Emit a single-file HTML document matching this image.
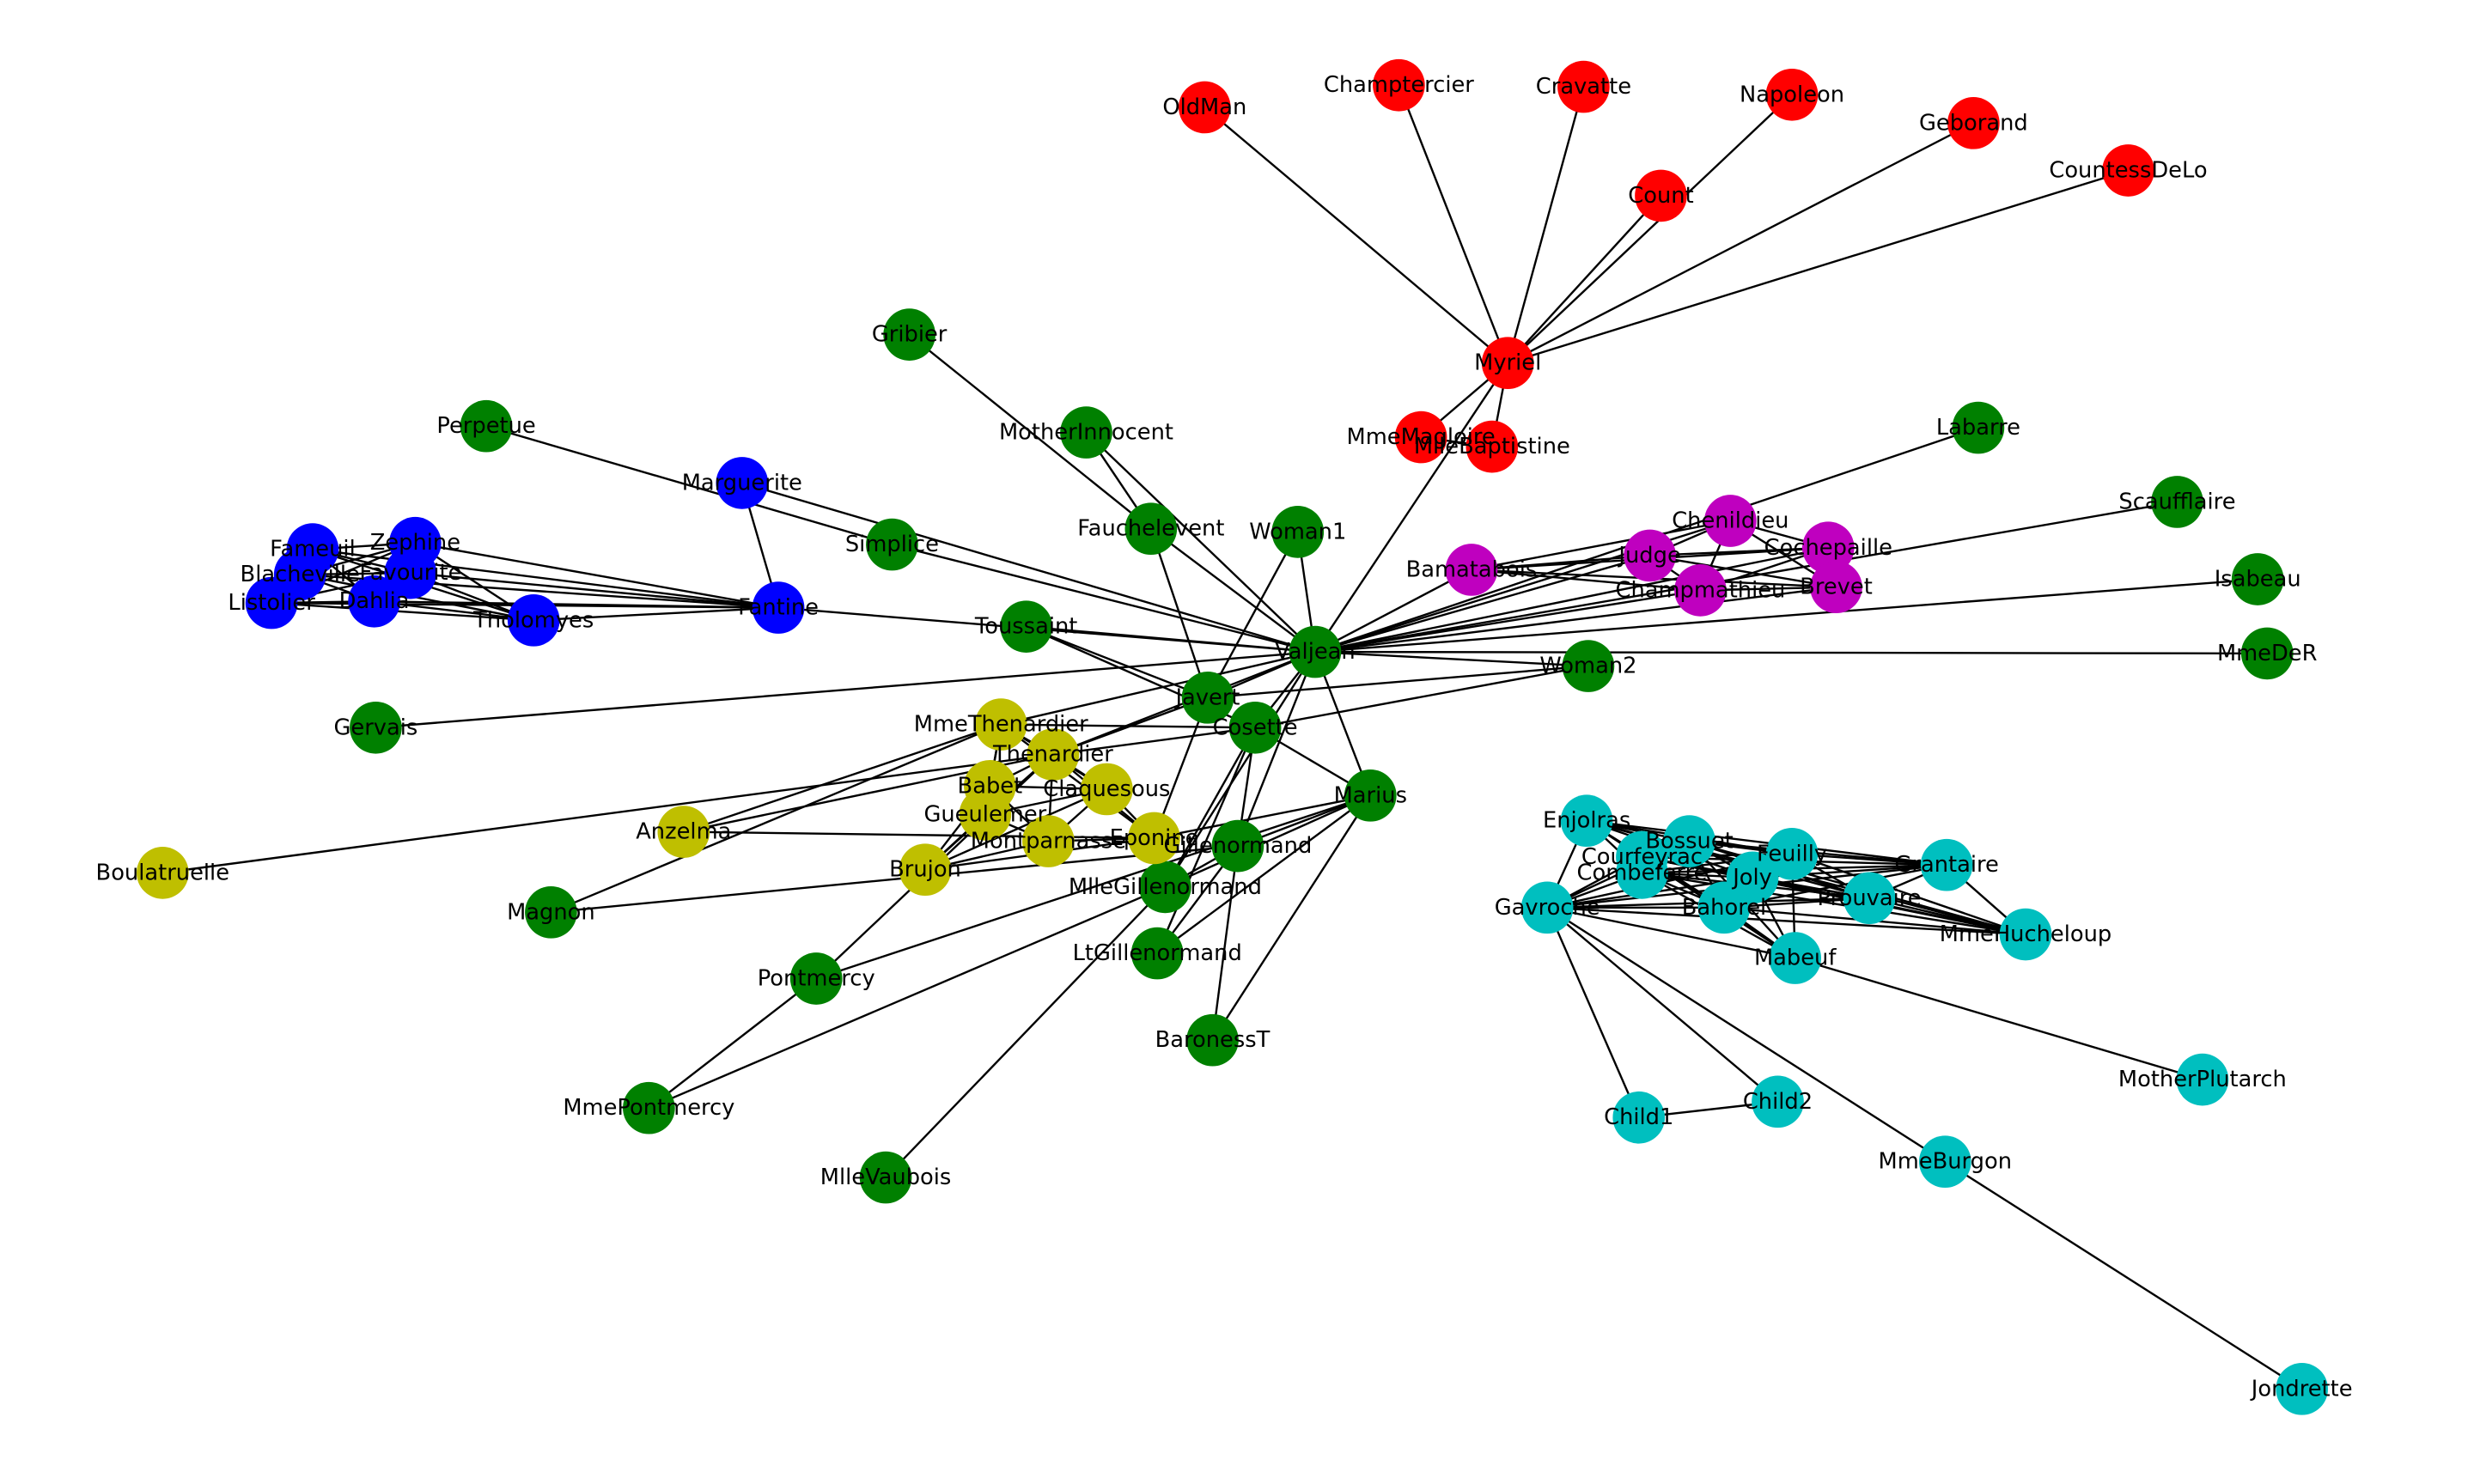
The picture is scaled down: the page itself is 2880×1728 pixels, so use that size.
<!DOCTYPE html>
<html><head><meta charset="utf-8"><style>
html,body{margin:0;padding:0;background:#fff;width:2880px;height:1728px;overflow:hidden}
svg{display:block}
text{font-family:"DejaVu Sans","Liberation Sans",sans-serif;font-size:14px;fill:#000;text-anchor:middle;dominant-baseline:central}
</style></head><body>
<svg id="g" width="2880" height="1728" viewBox="0 0 1567 940.2" preserveAspectRatio="none" xmlns="http://www.w3.org/2000/svg"><g id="e" stroke="#000" stroke-width="1.3"></g><g id="n"></g><g id="t"></g></svg>
<script>
const R='#ff0000',G='#008000',B='#0000ff',Y='#bfbf00',M='#bf00bf',C='#00bfbf';
const N={
Myriel:[955,230,R],OldMan:[763,68,R],Champtercier:[886,54,R],Cravatte:[1003,55,R],Napoleon:[1135,60,R],Geborand:[1250,78,R],CountessDeLo:[1348,108,R],Count:[1052,124,R],MmeMagloire:[900,277,R],MlleBaptistine:[945,283,R],
Labarre:[1253,271,G],Scaufflaire:[1379,318,G],Isabeau:[1430,367,G],MmeDeR:[1436,414,G],Valjean:[833,413,G],Woman2:[1006,422,G],Woman1:[822,337,G],Fauchelevent:[729,335,G],MotherInnocent:[688,274,G],Gribier:[576,212,G],Simplice:[565,345,G],Perpetue:[308,270,G],
Marguerite:[470,306,B],Fantine:[493,385,B],Tholomyes:[338,393,B],Dahlia:[237,381,B],Listolier:[172,382,B],Blacheville:[190,364,B],Fameuil:[198,348,B],Zephine:[263,344,B],Favourite:[260,363,B],
Toussaint:[650,397,G],Javert:[765,442,G],Cosette:[795,461,G],Gervais:[238,461,G],Marius:[868,504,G],Gillenormand:[784,536,G],MlleGillenormand:[738,562,G],LtGillenormand:[733,604,G],BaronessT:[768,659,G],Pontmercy:[517,620,G],MmePontmercy:[411,702,G],MlleVaubois:[561,746,G],Magnon:[349,578,G],
Boulatruelle:[103,553,Y],Anzelma:[433,527,Y],MmeThenardier:[634,459,Y],Thenardier:[667,478,Y],Babet:[627,498,Y],Claquesous:[701,500,Y],Gueulemer:[624,516,Y],Montparnasse:[664,533,Y],Eponine:[731,531,Y],Brujon:[586,551,Y],
Bamatabois:[932,361,M],Judge:[1045,352,M],Chenildieu:[1096,330,M],Cochepaille:[1158,347,M],Champmathieu:[1077,374,M],Brevet:[1163,372,M],
Enjolras:[1005,520,C],Bossuet:[1070,533,C],Courfeyrac:[1040,543,C],Combeferre:[1040,553,C],Feuilly:[1135,541,C],Joly:[1110,556,C],Bahorel:[1092,575,C],Prouvaire:[1184,569,C],Grantaire:[1233,548,C],MmeHucheloup:[1283,592,C],Gavroche:[980,575,C],Mabeuf:[1137,607,C],MotherPlutarch:[1395,684,C],Child1:[1038,708,C],Child2:[1126,698,C],MmeBurgon:[1232,736,C],Jondrette:[1458,880,C]};
const E=[];
function a(x,l){l.split(' ').forEach(y=>E.push([x,y]));}
function cl(l){const s=l.split(' ');for(let i=0;i<s.length;i++)for(let j=i+1;j<s.length;j++)E.push([s[i],s[j]]);}
a('Myriel','Napoleon MlleBaptistine MmeMagloire CountessDeLo Geborand Champtercier Cravatte Count OldMan Valjean');
a('MlleBaptistine','MmeMagloire');
a('Valjean','Labarre Marguerite MmeDeR Isabeau Gervais Fantine MmeThenardier Thenardier Cosette Javert Fauchelevent Bamatabois Simplice Scaufflaire Woman1 Judge Champmathieu Brevet Chenildieu Cochepaille Woman2 Toussaint Gillenormand MlleGillenormand Marius MotherInnocent');
a('Marguerite','Fantine');a('Simplice','Perpetue');
a('Fauchelevent','Javert MotherInnocent Gribier');
cl('Bamatabois Judge Champmathieu Brevet Chenildieu Cochepaille');
a('Cosette','MmeThenardier Thenardier Woman2 Marius Gillenormand MlleGillenormand LtGillenormand Toussaint');
a('Woman2','Javert');a('Toussaint','Javert');
a('Javert','Thenardier Eponine Woman1');
a('Marius','Pontmercy LtGillenormand BaronessT Gillenormand MlleGillenormand Eponine');
a('Gillenormand','MlleGillenormand BaronessT LtGillenormand Magnon');
a('MlleGillenormand','MmePontmercy MlleVaubois');
a('Pontmercy','MmePontmercy Thenardier');a('Magnon','MmeThenardier');
a('Thenardier','Boulatruelle Anzelma MmeThenardier Eponine');a('Anzelma','MmeThenardier Eponine');
cl('Thenardier Babet Gueulemer Claquesous Montparnasse Brujon');a('MmeThenardier','Babet Gueulemer Claquesous Eponine');
a('Eponine','Montparnasse Claquesous Brujon');
cl('Tholomyes Listolier Fameuil Blacheville Favourite Dahlia Zephine Fantine');
cl('Enjolras Bossuet Courfeyrac Combeferre Feuilly Joly Bahorel Prouvaire Grantaire MmeHucheloup Gavroche');
a('Mabeuf','Gavroche Feuilly Courfeyrac Combeferre Bossuet Joly Bahorel Enjolras MotherPlutarch');
a('Child1','Child2 Gavroche');a('Child2','Gavroche');a('MmeBurgon','Gavroche Jondrette');
const ns='http://www.w3.org/2000/svg';
const ge=document.getElementById('e'),gn=document.getElementById('n'),gt=document.getElementById('t');
E.forEach(([p,q])=>{const A=N[p],Bb=N[q];if(!A||!Bb)return;const l=document.createElementNS(ns,'line');l.setAttribute('x1',A[0]);l.setAttribute('y1',A[1]);l.setAttribute('x2',Bb[0]);l.setAttribute('y2',Bb[1]);ge.appendChild(l);});
for(const k in N){const v=N[k];const c=document.createElementNS(ns,'circle');c.setAttribute('cx',v[0]);c.setAttribute('cy',v[1]);c.setAttribute('r',16.5);c.setAttribute('fill',v[2]);gn.appendChild(c);
const t=document.createElementNS(ns,'text');t.setAttribute('x',v[0]);t.setAttribute('y',v[1]);t.textContent=k;gt.appendChild(t);}
</script>
</body></html>
